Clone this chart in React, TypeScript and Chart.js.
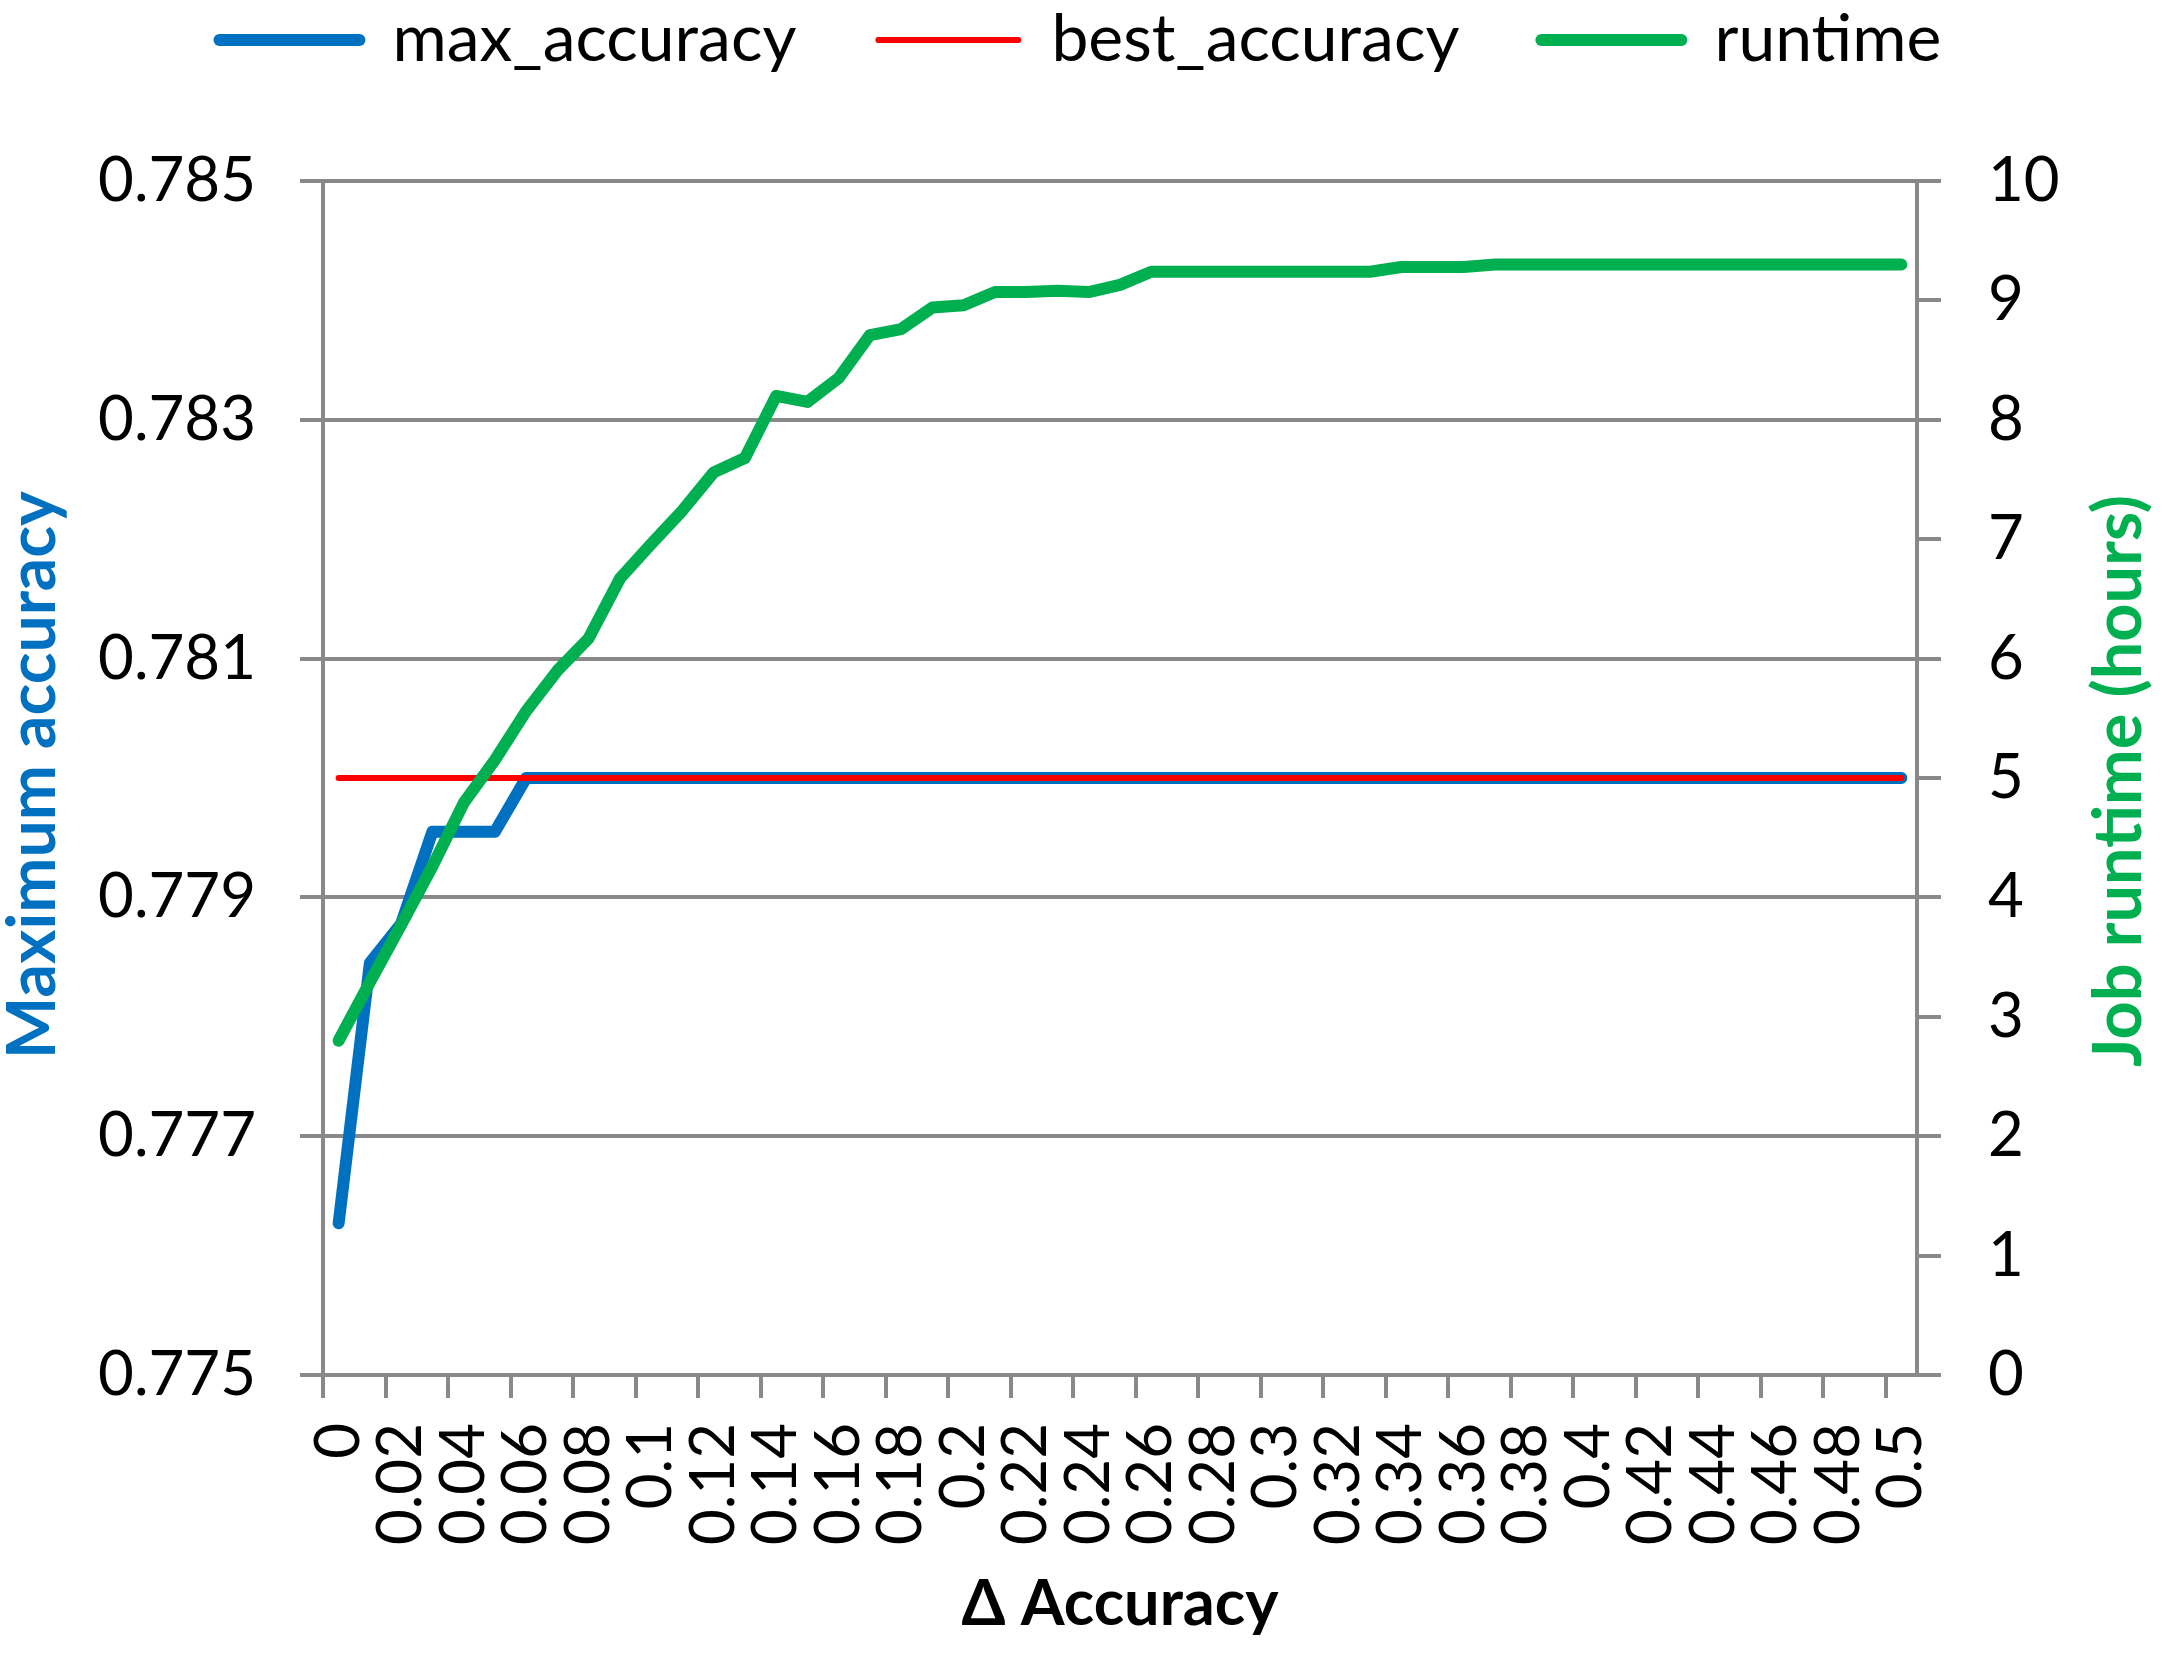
import React, { useEffect, useRef } from 'react';
import { Chart, registerables } from 'chart.js';

Chart.register(...registerables);

// ---------------- data ----------------
const categories = [
  '0', '0.01', '0.02', '0.03', '0.04', '0.05', '0.06', '0.07', '0.08', '0.09',
  '0.1', '0.11', '0.12', '0.13', '0.14', '0.15', '0.16', '0.17', '0.18', '0.19',
  '0.2', '0.21', '0.22', '0.23', '0.24', '0.25', '0.26', '0.27', '0.28', '0.29',
  '0.3', '0.31', '0.32', '0.33', '0.34', '0.35', '0.36', '0.37', '0.38', '0.39',
  '0.4', '0.41', '0.42', '0.43', '0.44', '0.45', '0.46', '0.47', '0.48', '0.49',
  '0.5',
];

const maxAccuracy = [
  0.77627, 0.77845, 0.77878, 0.77955, 0.77955, 0.77955, 0.78, 0.78, 0.78, 0.78,
  0.78, 0.78, 0.78, 0.78, 0.78, 0.78, 0.78, 0.78, 0.78, 0.78,
  0.78, 0.78, 0.78, 0.78, 0.78, 0.78, 0.78, 0.78, 0.78, 0.78,
  0.78, 0.78, 0.78, 0.78, 0.78, 0.78, 0.78, 0.78, 0.78, 0.78,
  0.78, 0.78, 0.78, 0.78, 0.78, 0.78, 0.78, 0.78, 0.78, 0.78,
  0.78,
];

const bestAccuracy = [
  0.78, 0.78, 0.78, 0.78, 0.78, 0.78, 0.78, 0.78, 0.78, 0.78,
  0.78, 0.78, 0.78, 0.78, 0.78, 0.78, 0.78, 0.78, 0.78, 0.78,
  0.78, 0.78, 0.78, 0.78, 0.78, 0.78, 0.78, 0.78, 0.78, 0.78,
  0.78, 0.78, 0.78, 0.78, 0.78, 0.78, 0.78, 0.78, 0.78, 0.78,
  0.78, 0.78, 0.78, 0.78, 0.78, 0.78, 0.78, 0.78, 0.78, 0.78,
  0.78,
];

const runtimeHours = [
  2.8, 3.29, 3.77, 4.26, 4.79, 5.15, 5.56, 5.9, 6.17, 6.67,
  6.96, 7.24, 7.56, 7.68, 8.2, 8.15, 8.35, 8.71, 8.76, 8.94,
  8.96, 9.07, 9.07, 9.08, 9.07, 9.13, 9.24, 9.24, 9.24, 9.24,
  9.24, 9.24, 9.24, 9.24, 9.28, 9.28, 9.28, 9.3, 9.3, 9.3,
  9.3, 9.3, 9.3, 9.3, 9.3, 9.3, 9.3, 9.3, 9.3, 9.3,
  9.3,
];

const accuracyTicks = [0.775, 0.777, 0.779, 0.781, 0.783, 0.785];
const runtimeTicks = [0, 1, 2, 3, 4, 5, 6, 7, 8, 9, 10];

const seriesNames = ['max_accuracy', 'best_accuracy', 'runtime'];
const xTitle = 'Δ Accuracy';
const yTitle = 'Maximum accuracy';
const y1Title = 'Job runtime (hours)';

// ---------------- style ----------------
const BLUE = '#0070C0';
const RED = '#FF0000';
const GREEN = '#00B050';
const GRID = '#898989';
const FAMILY = 'Lato, "Noto Sans", "DejaVu Sans", sans-serif';

const W = 2166;
const H = 1655;
const PLOT = { left: 323, right: 1917, top: 181, bottom: 1375 };

export default function App() {
  const canvasRef = useRef<HTMLCanvasElement | null>(null);

  useEffect(() => {
    document.body.style.margin = '0';
    const canvas = canvasRef.current;
    if (!canvas) return;

    const m = document.createElement('canvas').getContext('2d') as CanvasRenderingContext2D;
    const textW = (text: string, weight: string, size: number) => {
      m.font = `${weight} ${size}px ${FAMILY}`;
      return m.measureText(text).width;
    };
    const fitSize = (text: string, weight: string, target: number) =>
      (100 * target) / textW(text, weight, 100);

    const tickSize = fitSize('0.785', 'normal', 158);
    const legendSize = fitSize('max_accuracy', 'normal', 404);
    const yTitleSize = fitSize(yTitle, 'bold', 568);
    const y1TitleSize = fitSize(y1Title, 'bold', 572);
    const xTitleSize = fitSize(xTitle, 'bold', 317);

    const TICK_LEN = 23;
    const TICK_LEN_R = 24;
    const Y_PAD = 44;
    const Y1_PAD = 47;
    const X_PAD = 25;
    const LEG_PAD = 82;
    const LEG_BOX = 140;

    const leftLabelW = Math.max(...accuracyTicks.map((v) => textW(v.toFixed(3), 'normal', tickSize)));
    const rightLabelW = Math.max(...runtimeTicks.map((v) => textW(String(v), 'normal', tickSize)));
    const xLabelW = Math.max(
      ...categories.filter((_, i) => i % 2 === 0).map((c) => textW(c, 'normal', tickSize))
    );

    // the scale boxes take up tick length + label + twice the tick padding
    const padL = PLOT.left - (TICK_LEN + 2 * Y_PAD + leftLabelW);
    const padR = W - PLOT.right - (TICK_LEN_R + 2 * Y1_PAD + rightLabelW);
    const padB = H - PLOT.bottom - (TICK_LEN + 2 * X_PAD + xLabelW);
    const padT = PLOT.top - (legendSize + LEG_PAD + 10);

    const tickFont = { family: FAMILY, size: tickSize };
    const evenColor = (ctx: any) => (ctx.index % 2 === 0 ? GRID : 'rgba(0,0,0,0)');

    const legendLift = {
      id: 'legendLift',
      afterLayout(chart: any) {
        const lg = chart.legend;
        if (!lg) return;
        const shift = lg.top + LEG_PAD + legendSize / 2 - 40;
        lg.top -= shift;
        lg.bottom -= shift;
      },
    };

    const axisTitles = {
      id: 'axisTitles',
      afterDraw(chart: any) {
        const { ctx, chartArea: a } = chart;
        const cy = (a.top + a.bottom) / 2;
        ctx.save();
        ctx.textAlign = 'center';
        ctx.textBaseline = 'alphabetic';

        ctx.save();
        ctx.font = `bold ${yTitleSize}px ${FAMILY}`;
        ctx.fillStyle = BLUE;
        ctx.translate(a.left - 268, cy - 3);
        ctx.rotate(-Math.PI / 2);
        ctx.fillText(yTitle, 0, 0);
        ctx.restore();

        ctx.save();
        ctx.font = `bold ${y1TitleSize}px ${FAMILY}`;
        ctx.fillStyle = GREEN;
        ctx.translate(a.right + 224, cy + 3);
        ctx.rotate(-Math.PI / 2);
        ctx.fillText(y1Title, 0, 0);
        ctx.restore();

        ctx.font = `bold ${xTitleSize}px ${FAMILY}`;
        ctx.fillStyle = '#000000';
        ctx.fillText(xTitle, (a.left + a.right) / 2, a.bottom + 250);
        ctx.restore();
      },
    };

    const chart = new Chart(canvas, {
      type: 'line',
      data: {
        labels: categories,
        datasets: [
          {
            label: seriesNames[0],
            data: maxAccuracy,
            yAxisID: 'y',
            borderColor: BLUE,
            backgroundColor: BLUE,
            borderWidth: 12,
            pointRadius: 0,
            tension: 0,
            borderCapStyle: 'round',
            borderJoinStyle: 'round',
            order: 3,
          },
          {
            label: seriesNames[1],
            data: bestAccuracy,
            yAxisID: 'y',
            borderColor: RED,
            backgroundColor: RED,
            borderWidth: 6,
            pointRadius: 0,
            tension: 0,
            borderCapStyle: 'round',
            borderJoinStyle: 'round',
            order: 2,
          },
          {
            label: seriesNames[2],
            data: runtimeHours,
            yAxisID: 'y1',
            borderColor: GREEN,
            backgroundColor: GREEN,
            borderWidth: 12,
            pointRadius: 0,
            tension: 0,
            borderCapStyle: 'round',
            borderJoinStyle: 'round',
            order: 1,
          },
        ],
      },
      options: {
        responsive: false,
        animation: false,
        devicePixelRatio: 1,
        events: [],
        layout: { padding: { left: padL, right: padR, top: padT, bottom: padB } },
        plugins: {
          tooltip: { enabled: false },
          legend: {
            display: true,
            position: 'top',
            align: 'center',
            labels: {
              color: '#000000',
              font: { family: FAMILY, size: legendSize },
              usePointStyle: true,
              pointStyle: 'line',
              pointStyleWidth: LEG_BOX,
              padding: LEG_PAD,
              generateLabels(ch: any) {
                const base = (Chart.defaults.plugins.legend.labels as any).generateLabels(ch);
                return base
                  .sort((p: any, q: any) => p.datasetIndex - q.datasetIndex)
                  .map((it: any) => {
                    const ds: any = ch.data.datasets[it.datasetIndex];
                    return {
                      ...it,
                      pointStyle: 'line',
                      lineCap: 'round',
                      lineWidth: ds.borderWidth,
                      strokeStyle: ds.borderColor,
                      fillStyle: ds.borderColor,
                    };
                  });
              },
            },
          },
        },
        scales: {
          x: {
            type: 'category',
            offset: true,
            grid: {
              display: true,
              drawOnChartArea: false,
              drawTicks: true,
              offset: true,
              tickLength: TICK_LEN,
              lineWidth: 4,
              tickWidth: 4,
              color: evenColor,
              tickColor: evenColor,
            },
            border: { display: true, color: GRID, width: 4 },
            ticks: {
              autoSkip: false,
              minRotation: 90,
              maxRotation: 90,
              padding: X_PAD,
              color: '#000000',
              font: tickFont,
              callback: (_v: any, i: number) => (i % 2 === 0 ? categories[i] : ''),
            },
          },
          y: {
            type: 'linear',
            position: 'left',
            min: accuracyTicks[0],
            max: accuracyTicks[accuracyTicks.length - 1],
            ticks: {
              stepSize: 0.002,
              padding: Y_PAD,
              color: '#000000',
              font: tickFont,
              callback: (v: any) => Number(v).toFixed(3),
            },
            grid: { color: GRID, lineWidth: 4, tickLength: TICK_LEN, drawTicks: true },
            border: { display: true, color: GRID, width: 4 },
          },
          y1: {
            type: 'linear',
            position: 'right',
            min: runtimeTicks[0],
            max: runtimeTicks[runtimeTicks.length - 1],
            ticks: {
              stepSize: 1,
              padding: Y1_PAD,
              color: '#000000',
              font: tickFont,
              callback: (v: any) => String(Math.round(Number(v))),
            },
            grid: {
              drawOnChartArea: false,
              color: GRID,
              lineWidth: 4,
              tickLength: TICK_LEN_R,
              drawTicks: true,
            },
            border: { display: true, color: GRID, width: 4 },
          },
        },
      } as any,
      plugins: [legendLift, axisTitles],
    });

    return () => {
      chart.destroy();
    };
  }, []);

  return (
    <div style={{ width: W, height: H, background: '#ffffff' }}>
      <canvas ref={canvasRef} width={W} height={H} style={{ display: 'block', width: W, height: H }} />
    </div>
  );
}
